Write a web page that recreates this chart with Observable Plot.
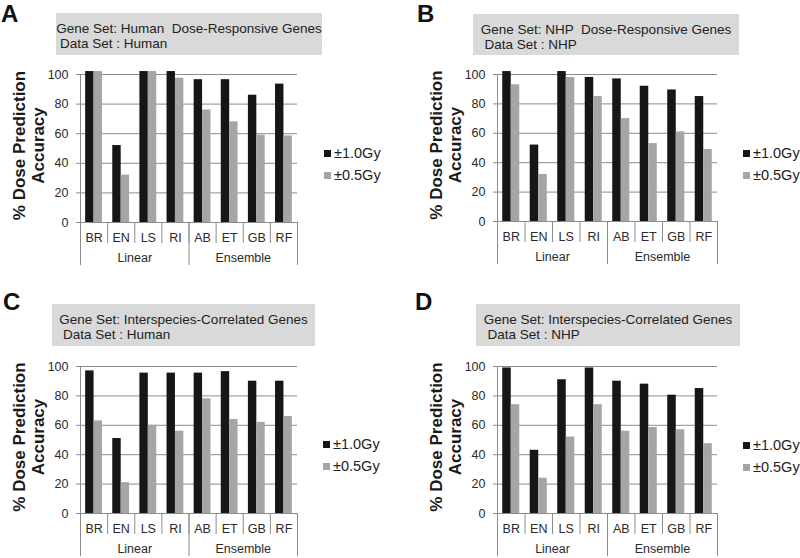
<!DOCTYPE html>
<html>
<head>
<meta charset="utf-8">
<script src="https://cdn.jsdelivr.net/npm/d3@7"></script>
<script src="https://cdn.jsdelivr.net/npm/@observablehq/plot@0.6"></script>
<style>
  html, body { margin: 0; padding: 0; background: #fff; }
  body { font-family: "Liberation Sans", Arial, sans-serif; color: #222; }
  #root { position: relative; width: 800px; height: 558px; overflow: hidden; }
  .plotbox { position: absolute; width: 400px; height: 280px; }
  .letter { position: absolute; font-weight: bold; font-size: 24px; line-height: 1; color: #111; }
  .header { position: absolute; background: #d9d9d9; display: flex; justify-content: center; }
  .header .inner { font-size: 13.5px; line-height: 15px; white-space: pre; text-align: left; padding-top: 8px; color: #222; }
  .legend { position: absolute; font-size: 14.5px; color: #222; }
  .legend .row { display: flex; align-items: center; height: 22px; }
  .legend .sw { width: 7px; height: 7px; margin-right: 3px; }
</style>
</head>
<body>
<div id="root"></div>
<script>
// ---------- data ----------
const categories = ["BR", "EN", "LS", "RI", "AB", "ET", "GB", "RF"];
const groupNames = ["Linear", "Ensemble"];
const groupSizes = [4, 4];
const seriesNames = ["±1.0Gy", "±0.5Gy"];
const yTicks = [0, 20, 40, 60, 80, 100];
const yTitle = "% Dose Prediction\nAccuracy";

const panelLetters = ["A", "B", "C", "D"];
const geneSets = [
  "Human  Dose-Responsive Genes",
  "NHP  Dose-Responsive Genes",
  "Interspecies-Correlated Genes",
  "Interspecies-Correlated Genes"
];
const dataSets = ["Human", "NHP", "Human", "NHP"];

const accA_1_0 = [102, 52, 102, 102, 96.5, 96.5, 86, 93.5];
const accA_0_5 = [102, 32, 102, 97.5, 76, 68, 59, 58.5];
const accB_1_0 = [102, 52, 102, 98, 97, 92, 89.5, 85];
const accB_0_5 = [93, 32, 98, 85, 70, 53, 61, 49];
const accC_1_0 = [97, 51, 95.5, 95.5, 95.5, 96.5, 90, 90];
const accC_0_5 = [63, 21, 60, 56, 78, 64, 62, 66];
const accD_1_0 = [99, 43, 91, 99, 90, 88, 80.5, 85];
const accD_0_5 = [74, 24, 52, 74, 56, 58.5, 57, 47.5];
const panelValues = [
  [accA_1_0, accA_0_5],
  [accB_1_0, accB_0_5],
  [accC_1_0, accC_0_5],
  [accD_1_0, accD_0_5]
];

// ---------- layout & style ----------
const seriesColors = ["#161616", "#a5a5a5"];
const gridColor = "#8c8c8c";
const panelOrigins = [[0, 0], [400, 0], [0, 280], [400, 280]];
const panelMargins = [
  {left: 80, right: 103, top: 74, bottom: 58},
  {left: 97, right: 83, top: 74, bottom: 59},
  {left: 80, right: 103, top: 86, bottom: 47},
  {left: 97, right: 83, top: 86, bottom: 47}
];
const letterPos = [[1, 2], [417, 2], [3, 290], [415, 290]];
const headerBoxes = [
  {left: 56, top: 13, width: 266, height: 42},
  {left: 473, top: 14, width: 266, height: 41},
  {left: 52, top: 304, width: 263, height: 42},
  {left: 476, top: 304, width: 264, height: 42}
];
const legendPos = [[324, 142], [743, 142], [323, 433], [743, 434]];

const root = document.getElementById("root");

function groupBounds() {
  const b = [0];
  groupSizes.forEach(s => b.push(b[b.length - 1] + s));
  return b;
}

panelValues.forEach((vals, p) => {
  const m = panelMargins[p];
  const rows = categories.map((c, k) => ({k, cat: c, a: vals[0][k], b: vals[1][k]}));
  const bounds = groupBounds();
  const groupCenters = groupNames.map((g, i) => (bounds[i] + bounds[i + 1]) / 2);

  const chart = Plot.plot({
    width: 400,
    height: 280,
    marginLeft: m.left,
    marginRight: m.right,
    marginTop: m.top,
    marginBottom: m.bottom,
    x: {domain: [0, categories.length]},
    y: {domain: [0, 100]},
    style: {fontFamily: "'Liberation Sans', Arial, sans-serif", background: "transparent", overflow: "visible"},
    marks: [
      Plot.gridY(yTicks.slice(1), {stroke: gridColor, strokeOpacity: 1}),
      Plot.rectY(rows, {x1: d => d.k + 0.19, x2: d => d.k + 0.5, y1: 0, y2: "a", fill: seriesColors[0]}),
      Plot.rectY(rows, {x1: d => d.k + 0.5, x2: d => d.k + 0.81, y1: 0, y2: "b", fill: seriesColors[1]}),
      Plot.ruleY([0], {stroke: gridColor}),
      Plot.ruleX([0], {y1: 0, y2: 100, stroke: gridColor}),
      Plot.axisY(yTicks, {tickSize: 4, tickPadding: 8, stroke: gridColor, fill: "#2a2a2a", fontSize: 12.5, label: null}),
      Plot.axisX(d3.range(0, categories.length + 1), {tickSize: 21, tickFormat: () => "", stroke: gridColor, label: null}),
      Plot.axisX(bounds, {tickSize: 43, tickFormat: () => "", stroke: gridColor, label: null}),
      Plot.axisX(categories.map((c, k) => k + 0.5), {tickSize: 0, tickPadding: 11, tickFormat: v => categories[Math.floor(v)], fill: "#2a2a2a", fontSize: 12.5, label: null}),
      Plot.axisX(groupCenters, {tickSize: 0, tickPadding: 31, tickFormat: v => groupNames[groupCenters.indexOf(v)], fill: "#2a2a2a", fontSize: 12.5, label: null}),
      Plot.text([yTitle], {frameAnchor: "left", textAnchor: "middle", lineAnchor: "middle", dx: -52, dy: -3, rotate: -90, fontSize: 17, fontWeight: "bold", lineHeight: 1.12, fill: "#1a1a1a"})
    ]
  });
  const box = document.createElement("div");
  box.className = "plotbox";
  box.style.left = panelOrigins[p][0] + "px";
  box.style.top = panelOrigins[p][1] + "px";
  box.appendChild(chart);
  root.appendChild(box);

  // panel letter
  const L = document.createElement("div");
  L.className = "letter";
  L.textContent = panelLetters[p];
  L.style.left = letterPos[p][0] + "px";
  L.style.top = letterPos[p][1] + "px";
  root.appendChild(L);

  // header box
  const hb = headerBoxes[p];
  const H = document.createElement("div");
  H.className = "header";
  Object.assign(H.style, {left: hb.left + "px", top: hb.top + "px", width: hb.width + "px", height: hb.height + "px"});
  const inner = document.createElement("div");
  inner.className = "inner";
  inner.textContent = "Gene Set: " + geneSets[p] + "\n Data Set : " + dataSets[p];
  H.appendChild(inner);
  root.appendChild(H);

  // legend
  const Lg = document.createElement("div");
  Lg.className = "legend";
  Lg.style.left = legendPos[p][0] + "px";
  Lg.style.top = legendPos[p][1] + "px";
  seriesNames.forEach((s, i) => {
    const r = document.createElement("div");
    r.className = "row";
    const sw = document.createElement("span");
    sw.className = "sw";
    sw.style.background = seriesColors[i];
    const t = document.createElement("span");
    t.textContent = s;
    r.appendChild(sw);
    r.appendChild(t);
    Lg.appendChild(r);
  });
  root.appendChild(Lg);
});
</script>
</body>
</html>
